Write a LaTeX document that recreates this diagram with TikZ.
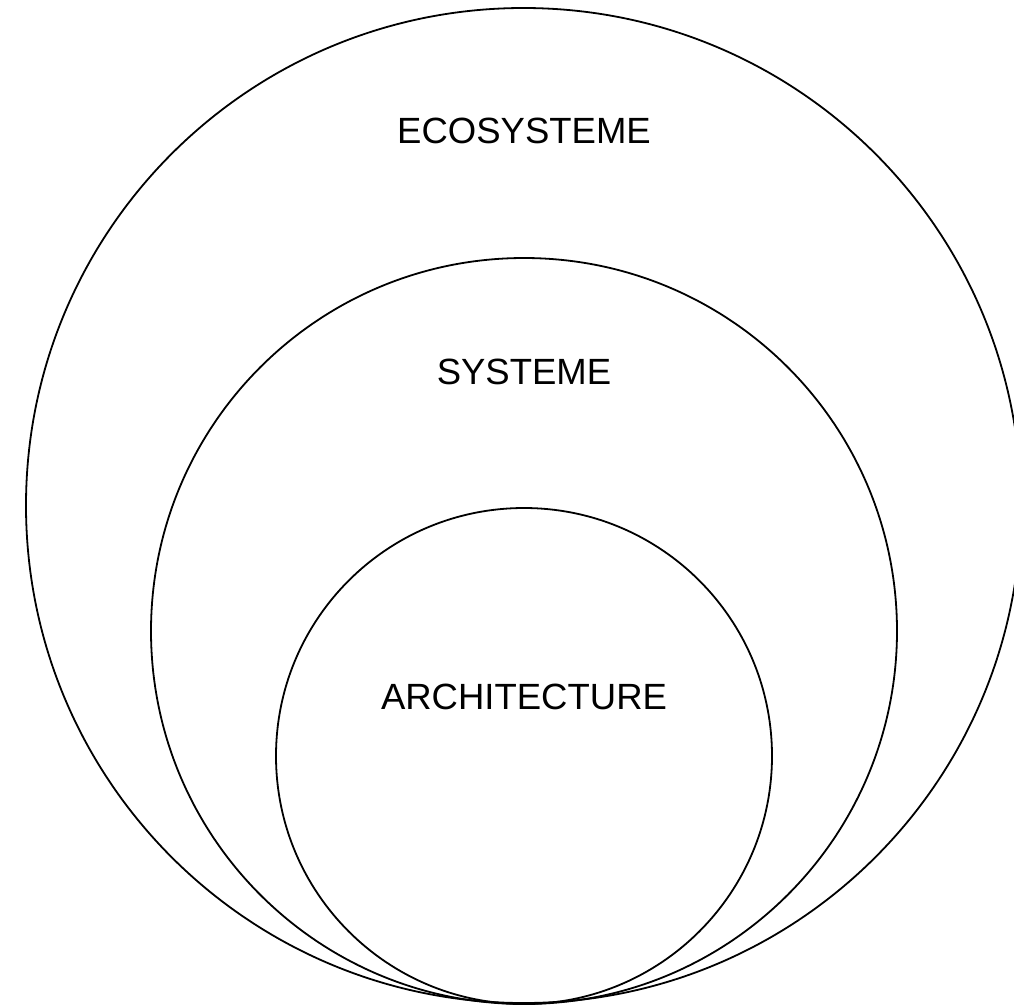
\documentclass[tikz,border=0pt]{standalone}
\usepackage{fontspec}
\setmainfont{Liberation Sans}
\begin{document}
\begin{tikzpicture}[x=1pt,y=-1pt,
  ring/.style={draw=black,line width=1.8pt},
  lbl/.style={font=\fontsize{36.5}{40}\selectfont,inner sep=0pt}]
\useasboundingbox (0,0) rectangle (1014,1005);
\clip (0,0) rectangle (1014,1005);
\fill[white] (0,0) rectangle (1014,1005);
\draw[ring] (523.5,505.5) circle[radius=497.5];
\draw[ring] (524,631) circle[radius=373];
\draw[ring] (524,756) circle[radius=248];
\node[lbl] (eco) at (524,131) {ECOSYSTEME};
\node[lbl] (sys) at (524,372) {SYSTEME};
\node[lbl] (arch) at (524,697) {ARCHITECTURE};
\end{tikzpicture}
\end{document}
